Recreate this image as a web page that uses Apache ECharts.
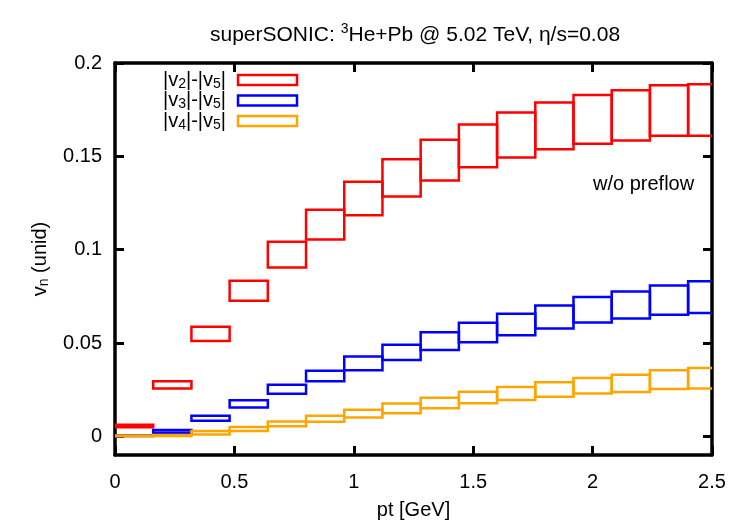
<!DOCTYPE html>
<html>
<head>
<meta charset="utf-8">
<script src="https://cdn.jsdelivr.net/npm/echarts@6/dist/echarts.min.js"></script>
<style>
  html, body { margin: 0; padding: 0; background: #fff; }
  #chart { width: 750px; height: 525px; }
</style>
</head>
<body>
<div id="chart"></div>
<script>
// pt bin edges (GeV), 16 bins of 0.16
var ptEdges = [0, 0.16, 0.32, 0.48, 0.64, 0.80, 0.96, 1.12, 1.28, 1.44, 1.60, 1.76, 1.92, 2.08, 2.24, 2.40, 2.56];

// band low / high per bin
var v2Low  = [0.0048, 0.0256, 0.0511, 0.0726, 0.0905, 0.1055, 0.1184, 0.1285, 0.1370, 0.1441, 0.1494, 0.1538, 0.1568, 0.1585, 0.1610, 0.1610];
var v2High = [0.0062, 0.0295, 0.0587, 0.0834, 0.1043, 0.1214, 0.1364, 0.1485, 0.1589, 0.1670, 0.1735, 0.1788, 0.1829, 0.1854, 0.1881, 0.1886];
var v3Low  = [0.0002, 0.0019, 0.0084, 0.0155, 0.0228, 0.0295, 0.0354, 0.0409, 0.0463, 0.0504, 0.0542, 0.0578, 0.0610, 0.0631, 0.0652, 0.0661];
var v3High = [0.0006, 0.0034, 0.0110, 0.0193, 0.0277, 0.0352, 0.0428, 0.0490, 0.0557, 0.0608, 0.0657, 0.0701, 0.0746, 0.0776, 0.0808, 0.0831];
var v4Low  = [0.0000, 0.0002, 0.0010, 0.0029, 0.0054, 0.0078, 0.0101, 0.0124, 0.0150, 0.0177, 0.0195, 0.0212, 0.0230, 0.0237, 0.0253, 0.0256];
var v4High = [0.0004, 0.0007, 0.0028, 0.0050, 0.0079, 0.0110, 0.0142, 0.0176, 0.0207, 0.0239, 0.0264, 0.0290, 0.0313, 0.0330, 0.0354, 0.0366];

var yTicks = [0, 0.05, 0.1, 0.15, 0.2];

var seriesNames = ['v2', 'v3', 'v4'];
var seriesColors = ['#ff0000', '#0000ff', '#ffa500'];

function boxes(low, high) {
  var out = [];
  for (var i = 0; i < low.length; i++) {
    out.push([ptEdges[i], ptEdges[i + 1], low[i], high[i]]);
  }
  return out;
}

function boxSeries(name, color, low, high) {
  return {
    name: name,
    type: 'custom',
    clip: true,
    itemStyle: { color: '#fff', borderColor: color, borderWidth: 2.5 },
    renderItem: function (params, api) {
      var p0 = api.coord([api.value(0), api.value(3)]);
      var p1 = api.coord([api.value(1), api.value(2)]);
      return {
        type: 'rect',
        shape: { x: p0[0], y: p0[1], width: p1[0] - p0[0], height: p1[1] - p0[1] },
        style: { fill: 'none', stroke: color, lineWidth: 2.5 }
      };
    },
    encode: { x: [0, 1], y: [2, 3] },
    data: boxes(low, high)
  };
}

var font = 'Liberation Sans, Arial, Helvetica, sans-serif';
var fs = 20;

var subRich = {
  t: { fontSize: fs, fontFamily: font, color: '#000', lineHeight: 20 },
  s: { fontSize: 14, fontFamily: font, color: '#000', lineHeight: 12, padding: [8, 0, 0, 0] }
};

function frameLine() {
  return { show: true, onZero: false, lineStyle: { color: '#000', width: 3.5 } };
}
function ticks(values) {
  var t = { show: true, inside: true, length: 9, lineStyle: { color: '#000', width: 3 } };
  if (values) t.customValues = values;
  return t;
}

var myChart = echarts.init(document.getElementById('chart'));

var option = {
  animation: false,
  backgroundColor: '#fff',
  title: {
    text: '{a|superSONIC: }{sup|3}{a|He+Pb @ 5.02 TeV, η/s=0.08}',
    left: 205,
    top: 17,
    textStyle: {
      rich: {
        a: { fontSize: 21, fontFamily: font, color: '#000', fontWeight: 'normal' },
        sup: { fontSize: 14, fontFamily: font, color: '#000', fontWeight: 'normal', padding: [0, 0, 12, 0] }
      }
    }
  },
  grid: { left: 115, right: 38, top: 63, bottom: 67 },
  legend: {
    orient: 'vertical',
    left: 158,
    top: 64,
    align: 'right',
    itemWidth: 59,
    itemHeight: 10,
    itemGap: -1.5,
    icon: 'rect',
    selectedMode: false,
    data: seriesNames.map(function (n, i) {
      return { name: n, itemStyle: { color: '#fff', borderColor: seriesColors[i], borderWidth: 2.5 } };
    }),
    formatter: function (name) {
      var k = name.charAt(1);
      return '{t||v}{s|' + k + '}{t||-|v}{s|5}{t||}';
    },
    textStyle: { rich: subRich, padding: [0, 7, 0, 0] }
  },
  xAxis: [{
    type: 'value',
    min: 0,
    max: 2.5,
    interval: 0.5,
    position: 'bottom',
    axisLine: frameLine(),
    axisTick: ticks(),
    splitLine: { show: false },
    axisLabel: { fontSize: fs, fontFamily: font, color: '#000', margin: 17 },
    name: 'pt [GeV]',
    nameLocation: 'middle',
    nameGap: 45,
    nameTextStyle: { fontSize: fs, fontFamily: font, color: '#000' }
  }, {
    type: 'value',
    min: 0,
    max: 2.5,
    interval: 0.5,
    position: 'top',
    axisLine: frameLine(),
    axisTick: ticks(),
    splitLine: { show: false },
    axisLabel: { show: false }
  }],
  yAxis: [{
    type: 'value',
    min: -0.01,
    max: 0.2,
    position: 'left',
    axisLine: frameLine(),
    axisTick: ticks(yTicks),
    splitLine: { show: false },
    axisLabel: { fontSize: fs, fontFamily: font, color: '#000', margin: 13, customValues: yTicks },
    name: '{t|v}{s|n}{t| (unid)}',
    nameLocation: 'middle',
    nameRotate: 90,
    nameGap: 65,
    nameTextStyle: { rich: subRich }
  }, {
    type: 'value',
    min: -0.01,
    max: 0.2,
    position: 'right',
    axisLine: frameLine(),
    axisTick: ticks(yTicks),
    splitLine: { show: false },
    axisLabel: { show: false, customValues: yTicks }
  }],
  graphic: [{
    type: 'text',
    left: 593,
    top: 174,
    style: { text: 'w/o preflow', fontSize: fs, fontFamily: font, fill: '#000' }
  }],
  series: [
    boxSeries('v2', seriesColors[0], v2Low, v2High),
    boxSeries('v3', seriesColors[1], v3Low, v3High),
    boxSeries('v4', seriesColors[2], v4Low, v4High)
  ]
};

myChart.setOption(option);
</script>
</body>
</html>
